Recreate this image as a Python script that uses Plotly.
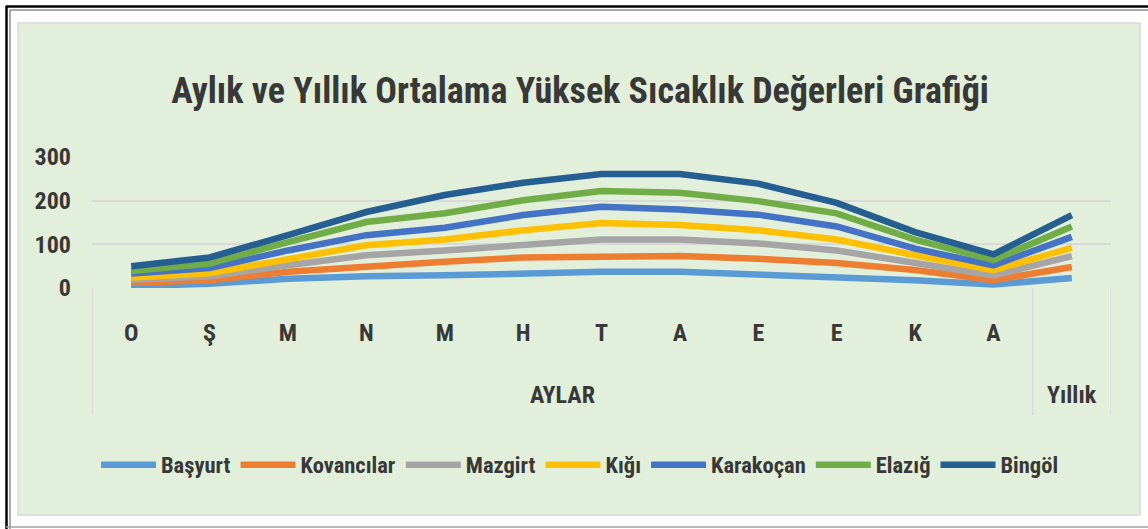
import plotly.graph_objects as pgo

aylar = ["O", "Ş", "M", "N", "M", "H", "T", "A", "E", "E", "K", "A", "Yıllık"]
ay_etiket = ["O", "Ş", "M", "N", "M", "H", "T", "A", "E", "E", "K", "A", ""]

basyurt = [4, 10, 21, 27, 29, 34, 37, 37, 31, 25, 18, 8, 23]
kovancilar = [8, 8, 16, 23, 31, 36, 36, 36, 36, 32, 23, 10, 25]
mazgirt = [7, 9, 15, 25, 26, 30, 38, 38, 35, 29, 16, 11, 25]
kigi = [5, 7, 14, 23, 25, 32, 38, 33, 30, 25, 18, 12, 19]
karakocan = [9, 12, 20, 23, 27, 35, 37, 36, 36, 30, 15, 11, 25]
elazig = [6, 10, 19, 30, 33, 34, 36, 38, 31, 30, 21, 12, 24]
bingol = [11, 14, 16, 23, 42, 40, 39, 43, 40, 24, 17, 13, 26]

seriler = [("Başyurt", basyurt, "#5B9BD5"), ("Kovancılar", kovancilar, "#ED7D31"),
           ("Mazgirt", mazgirt, "#A5A5A5"), ("Kığı", kigi, "#FFC000"),
           ("Karakoçan", karakocan, "#4472C4"), ("Elazığ", elazig, "#70AD47"),
           ("Bingöl", bingol, "#255E91")]

W, H = 1148, 529
L, R, T, B = 92, 1111, 157, 288  # plot area in pixels
font = "Liberation Sans Narrow, Roboto Condensed, DejaVu Sans Condensed, Arial Narrow, sans-serif"
txt = "#383838"

def px(x):
    return (x - L) / (R - L)

def py(y):
    return (B - y) / (B - T)

xs = list(range(len(aylar)))

fig = pgo.Figure()
for name, vals, col in seriler:
    fig.add_trace(pgo.Scatter(x=xs, y=vals, name=name, mode="lines", stackgroup="s", fill="none",
                              line=dict(color=col, width=6.5, shape="linear")))

shapes = [
    # green chart panel
    dict(type="rect", xref="paper", yref="paper", x0=px(18), x1=px(1140), y0=py(515), y1=py(23),
         fillcolor="#E2EFDA", line=dict(color="#D9D9D9", width=1.5), layer="below"),
    # outer frame
    dict(type="line", xref="paper", yref="paper", x0=px(6), x1=px(1148), y0=py(6.5), y1=py(6.5),
         line=dict(color="black", width=2.5), layer="below"),
    dict(type="line", xref="paper", yref="paper", x0=px(10), x1=px(1148), y0=py(10), y1=py(10),
         line=dict(color="#555555", width=1), layer="below"),
    dict(type="line", xref="paper", yref="paper", x0=px(6.5), x1=px(6.5), y0=py(6), y1=py(529),
         line=dict(color="black", width=2.5), layer="below"),
    dict(type="line", xref="paper", yref="paper", x0=px(10), x1=px(10), y0=py(10), y1=py(529),
         line=dict(color="#555555", width=1), layer="below"),
    dict(type="line", xref="paper", yref="paper", x0=px(6), x1=px(1148), y0=py(527), y1=py(527),
         line=dict(color="#A0A0A0", width=1.5), layer="below"),
]
# category group dividers
for xv in [-0.5, len(aylar) - 1.5, len(aylar) - 0.5]:
    shapes.append(dict(type="line", xref="x", yref="paper", x0=xv, x1=xv, y0=0, y1=py(415),
                       line=dict(color="#D9D9D9", width=1.5), layer="below"))

fig.update_layout(
    width=W, height=H,
    margin=dict(l=L, r=W - R, t=T, b=H - B, pad=0),
    paper_bgcolor="white", plot_bgcolor="rgba(0,0,0,0)",
    shapes=shapes,
    title=dict(text="Aylık ve Yıllık Ortalama Yüksek Sıcaklık Değerleri Grafiği",
               font=dict(family=font, size=36, color=txt, weight="bold"),
               xref="paper", x=px(580), xanchor="center", yref="container", y=1 - 90 / H, yanchor="middle"),
    xaxis=dict(range=[-0.5, len(aylar) - 0.5], tickvals=xs, ticktext=ay_etiket,
               showgrid=False, zeroline=False, showline=False, ticks="",
               tickfont=dict(family=font, size=24, color=txt, weight="bold"), ticklabelstandoff=28),
    yaxis=dict(range=[0, 300], dtick=100, showgrid=True, gridcolor="#D9D9D9", gridwidth=2,
               zeroline=False, showline=False, ticks="",
               tickfont=dict(family=font, size=24, color=txt, weight="bold"), ticklabelstandoff=20),
    legend=dict(orientation="h", x=px(580), xanchor="center", y=py(465), yanchor="middle",
                bgcolor="rgba(0,0,0,0)", font=dict(family=font, size=22.5, color=txt, weight="bold"),
                itemwidth=55, tracegroupgap=0),
    showlegend=True,
)

fig.add_annotation(text="AYLAR", xref="x", yref="paper", x=(len(aylar) - 2) / 2, y=py(395),
                   yanchor="middle", showarrow=False, font=dict(family=font, size=24, color=txt, weight="bold"))
fig.add_annotation(text=aylar[-1], xref="x", yref="paper", x=len(aylar) - 1, y=py(395),
                   yanchor="middle", showarrow=False, font=dict(family=font, size=24, color=txt, weight="bold"))

# page has a default 8px body margin; drop it so the figure sits at the window origin
fig.write_html("out.html", config={"displayModeBar": False},
               post_script="document.body.style.margin='0';")
